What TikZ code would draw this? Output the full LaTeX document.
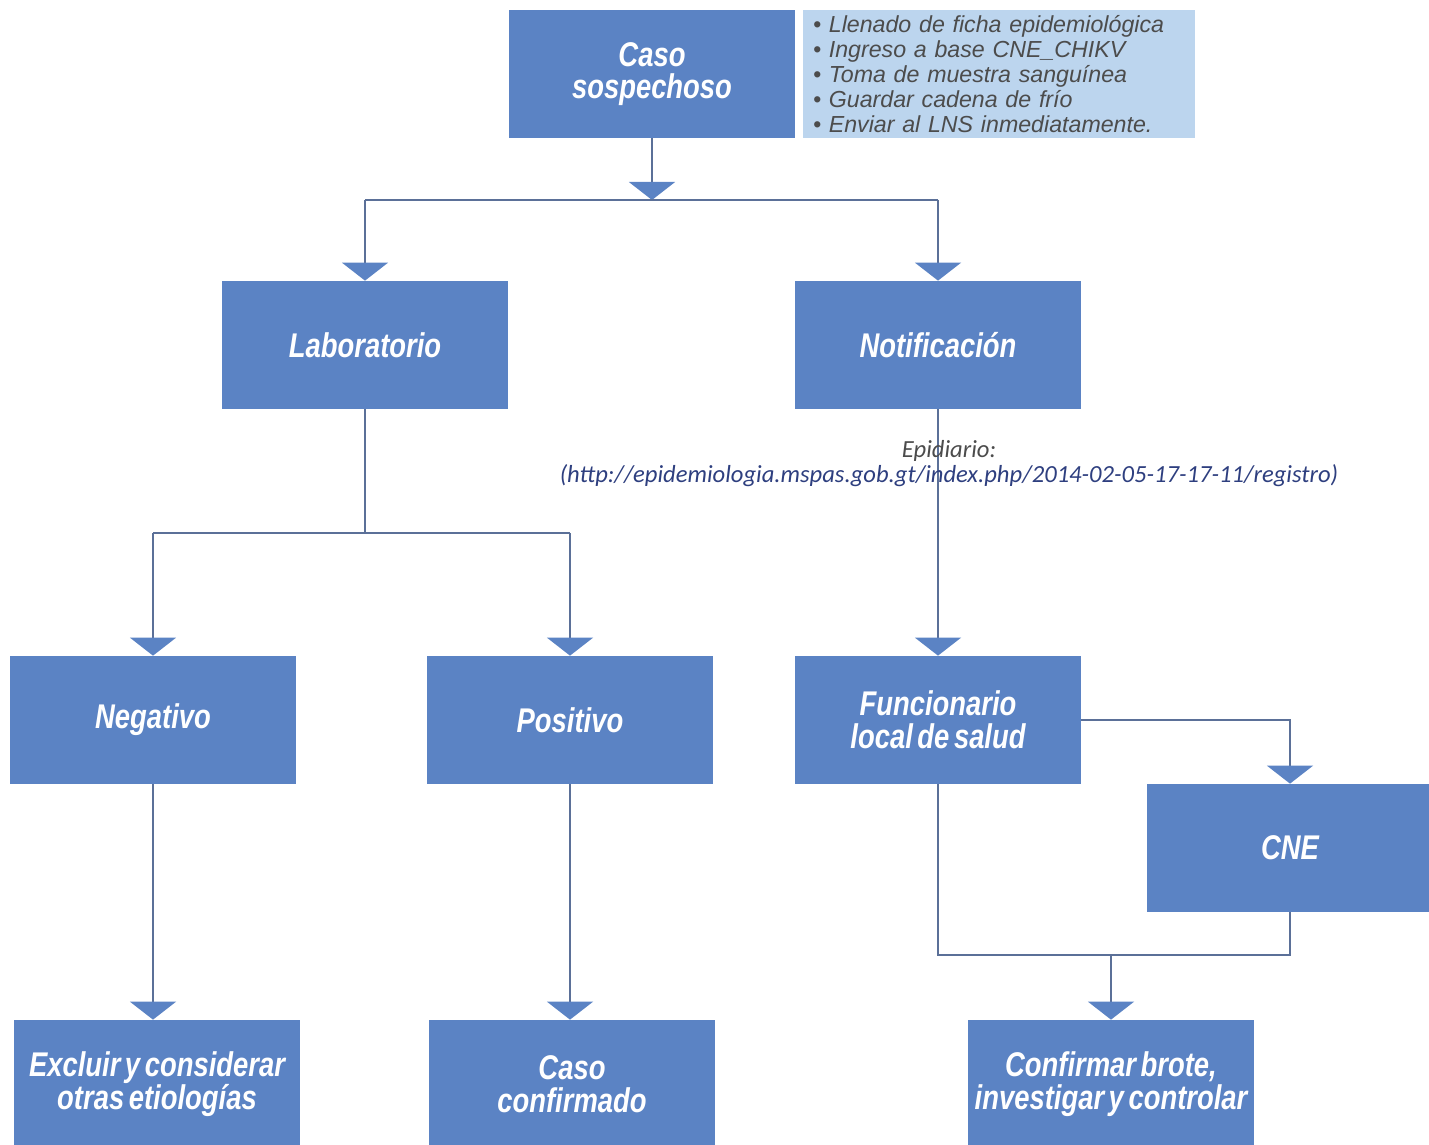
\documentclass[tikz,border=0pt]{standalone}
\usepackage{fontspec}
\usetikzlibrary{arrows.meta}
\newfontfamily\boxfont[FakeStretch=0.8,WordSpace=0.6]{Liberation Sans}
\newfontfamily\listfont{Liberation Sans}
\newfontfamily\urlfont{Carlito}
\definecolor{boxblue}{HTML}{5B83C4}
\definecolor{lightblue}{HTML}{BCD5EE}
\definecolor{linecol}{HTML}{5B7098}
\definecolor{urlblue}{HTML}{2E3F7F}
\begin{document}
\begin{tikzpicture}[
  box/.style={fill=boxblue,minimum width=5.72cm,minimum height=2.56cm,inner sep=0pt,
    text=white,align=center,font=\boxfont\bfseries\itshape\fontsize{19.5}{18.5}\selectfont},
  arr/.style={draw=linecol,line width=0.8pt,-{Triangle[width=0.92cm,length=0.36cm,color=boxblue,fill=boxblue]}},
  ln/.style={draw=linecol,line width=0.8pt}]
  \useasboundingbox (0,0) rectangle (28.58,-22.9);
  \node[box] (caso) at (13.04,-1.48) {Caso\\sospechoso};
  \node[fill=lightblue,minimum width=7.84cm,minimum height=2.56cm,inner xsep=0.2cm,
    text width=7.44cm,align=left,text=black!70,
    font=\listfont\itshape\fontsize{13.2}{14.2}\selectfont] (pasos) at (19.98,-1.48)
    {• Llenado de ficha epidemiológica\\
     • Ingreso a base CNE\_CHIKV\\
     • Toma de muestra sanguínea\\
     • Guardar cadena de frío\\
     • Enviar al LNS inmediatamente.};
  \node[box] (lab) at (7.3,-6.9) {Laboratorio};
  \node[box] (notif) at (18.76,-6.9) {Notificación};
  \node[box] (neg) at (3.06,-14.4) {Negativo};
  \node[box] (pos) at (11.4,-14.4) {Positivo};
  \node[box] (fun) at (18.76,-14.4) {Funcionario\\local de salud};
  \node[box] (cne) at (25.8,-16.96) {CNE};
  \node[box] (excl) at (3.14,-21.68) {Excluir y considerar\\otras etiologías};
  \node[box] (conf) at (11.44,-21.68) {Caso\\confirmado};
  \node[box] (brote) at (22.22,-21.68) {Confirmar brote,\\investigar y controlar};
  \coordinate (s1) at (13.04,-4);
  \coordinate (s2) at (7.3,-10.66);
  \coordinate (s3) at (22.22,-19.1);
  \draw[arr] (caso) -- (s1);
  \draw[ln] (lab |- s1) -- (notif |- s1);
  \draw[arr] (lab |- s1) -- (lab);
  \draw[arr] (notif |- s1) -- (notif);
  \draw[ln] (lab) -- (s2);
  \draw[ln] (neg |- s2) -- (pos |- s2);
  \draw[arr] (neg |- s2) -- (neg);
  \draw[arr] (pos |- s2) -- (pos);
  \draw[arr] (notif) -- (fun)
    node[pos=0.22,xshift=0.22cm,align=center,font=\urlfont\itshape\fontsize{14}{14.2}\selectfont]
    (epi) {\textcolor{black!70}{Epidiario:}\\
     \textcolor{urlblue}{(http://epidemiologia.mspas.gob.gt/index.php/2014-02-05-17-17-11/registro)}};
  \draw[arr] (fun.east) -| (cne.north);
  \draw[ln] (fun.south) |- (s3) -| (cne.south);
  \draw[arr] (s3) -- (brote);
  \draw[arr] (neg) -- (neg |- excl.north);
  \draw[arr] (pos) -- (pos |- conf.north);
\end{tikzpicture}
\end{document}
